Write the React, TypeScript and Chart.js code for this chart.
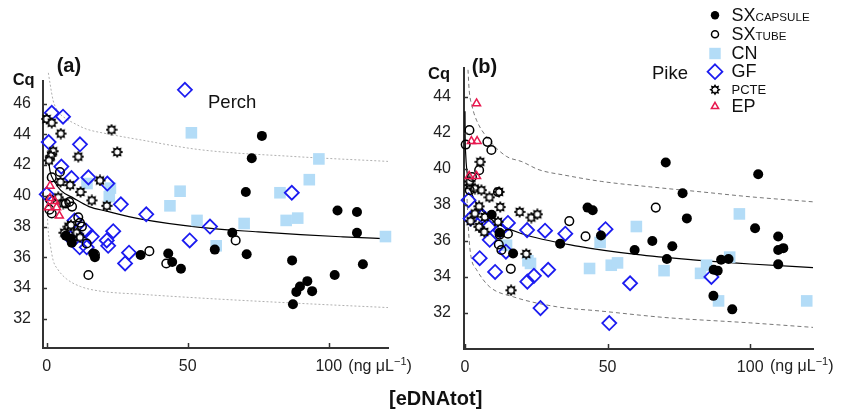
import React, { useEffect, useRef } from 'react';
import { Chart, registerables } from 'chart.js';

Chart.register(...registerables);

type P = [number, number];

// ---------- tick labels ----------
const X_TICKS = [0, 50, 100];
const Y_TICKS_PERCH = [32, 34, 36, 38, 40, 42, 44, 46];
const Y_TICKS_PIKE = [32, 34, 36, 38, 40, 42, 44];

// ---------- (a) Perch ----------
const perchCapsule: P[] = [
  [124, 38.1], [76.3, 43.9], [72.7, 42.45], [70.6, 40.25], [103.1, 39.05], [110.0, 38.95],
  [110.0, 37.6], [65.8, 37.6], [59.6, 36.5], [70.9, 36.2], [87.0, 35.8], [112.1, 35.55],
  [102.1, 34.85], [92.4, 34.45], [89.8, 34.1], [88.5, 33.75], [94.1, 33.8], [87.3, 32.95],
  [33.3, 36.15], [43.1, 36.25], [44.5, 35.7], [47.6, 35.25], [16.5, 36.25], [17.1, 36.0],
  [6.8, 37.4], [8.5, 37.2], [8.9, 36.95],
];
const perchTube: P[] = [
  [67.0, 37.1], [36.4, 36.4], [42.4, 35.6], [14.8, 34.85], [1.8, 41.2], [4.7, 41.55],
  [1.2, 39.75], [1.8, 38.85], [1.0, 39.1], [6.8, 39.5], [9.0, 39.3], [8.0, 39.6],
  [11.2, 38.6], [11.8, 38.25], [12.5, 38.0], [14.2, 36.9], [17.1, 36.2],
];
const perchCN: P[] = [
  [51.3, 44.1], [96.5, 42.4], [93.1, 41.05], [82.7, 40.2], [70.0, 38.2], [84.9, 38.4],
  [89.0, 38.55], [120.1, 37.35], [60.1, 36.75], [53.3, 38.4], [47.3, 40.3], [43.7, 39.35],
  [14.3, 40.8], [22.6, 40.5], [22.2, 39.95],
];
const perchGF: P[] = [
  [49.0, 46.9], [1.8, 45.4], [5.8, 45.15], [0.7, 43.5], [11.8, 43.35], [5.2, 41.9],
  [8.8, 41.15], [14.8, 41.2], [21.5, 40.8], [26.3, 39.45], [35.3, 38.8], [50.7, 37.1],
  [57.9, 38.0], [86.9, 40.2], [0.0, 40.1], [9.9, 38.4], [8.5, 37.25], [11.7, 36.65],
  [13.9, 37.75], [16.0, 37.35], [14.2, 36.65], [21.3, 37.1], [21.8, 36.75], [23.6, 37.7],
  [29.2, 36.3], [27.8, 35.6],
];
const perchPCTE: P[] = [
  [0.0, 45.0], [1.8, 44.75], [5.0, 44.05], [23.0, 44.3], [25.0, 42.85], [11.2, 42.55],
  [2.3, 42.9], [1.5, 42.6], [0.8, 42.3], [18.9, 41.0], [12.0, 40.25], [16.0, 39.7],
  [21.3, 39.35], [4.9, 40.9], [8.3, 40.7], [4.1, 39.9], [5.9, 39.5], [7.7, 38.0],
  [6.2, 37.6], [10.6, 37.6], [11.8, 37.3], [8.6, 38.1],
];
const perchEP: P[] = [
  [1.2, 40.65], [1.2, 39.85], [2.9, 39.65], [3.5, 39.25], [0.6, 39.25], [4.5, 38.7],
];
const perchFit: P[] = [
  [0.5, 42.6], [1.2, 41.6], [2.9, 40.9], [5, 40.35], [9.5, 39.85], [15, 39.3], [21.3, 39.0],
  [33, 38.5], [54.4, 37.95], [75, 37.65], [90, 37.47], [105, 37.33], [121, 37.2],
];
const perchUpper: P[] = [
  [0.6, 48.0], [1.2, 47.3], [2.3, 46.2], [4, 45.5], [7, 45.0], [9.4, 44.75], [14, 44.35],
  [21.3, 44.04], [33, 43.65], [54.4, 43.0], [87.4, 42.56], [121, 42.24],
];
const perchLower: P[] = [
  [0.3, 38.5], [0.6, 37.6], [1.2, 36.9], [2.3, 35.8], [4, 35.2], [7, 34.6], [12, 34.1],
  [19, 33.8], [33, 33.6], [54.4, 33.35], [90, 33.0], [121, 32.73],
];

// ---------- (b) Pike ----------
const pikeCapsule: P[] = [
  [70.4, 40.35], [102.8, 39.7], [76.3, 38.65], [77.8, 37.25], [101.7, 36.7], [109.8, 36.25],
  [109.8, 35.5], [111.6, 35.6], [109.8, 34.7], [65.7, 36.0], [59.5, 35.5], [72.7, 35.7],
  [70.8, 35.0], [89.8, 34.95], [92.4, 35.0], [87.2, 34.4], [88.6, 34.35], [87.1, 32.95],
  [93.7, 32.2], [43.0, 37.85], [44.8, 37.7], [33.4, 35.85], [47.7, 36.3], [9.4, 37.45],
  [12.2, 36.45], [16.9, 35.3],
];
const pikeTube: P[] = [
  [0.3, 41.35], [1.6, 42.15], [7.9, 41.5], [9.3, 41.05], [5.0, 39.93], [2.5, 39.55],
  [1.7, 38.82], [11.6, 38.72], [12.2, 36.35], [15.1, 36.4], [11.9, 35.8], [12.8, 35.5],
  [16.1, 34.45], [36.6, 37.1], [42.3, 36.25], [66.9, 37.85],
];
const pikeCN: P[] = [
  [96.2, 37.5], [60.1, 36.8], [51.3, 34.65], [53.5, 34.78], [69.8, 34.35], [82.6, 34.2],
  [84.7, 34.65], [92.8, 35.1], [88.9, 32.67], [119.8, 32.67], [43.7, 34.47], [47.4, 35.92],
  [14.6, 35.76], [22.1, 34.9], [23.0, 34.75],
];
const pikeGF: P[] = [
  [1.3, 38.26], [2.0, 37.24], [6.1, 37.38], [8.4, 36.78], [8.7, 36.06], [5.2, 35.04],
  [10.6, 34.28], [15.1, 37.0], [12.4, 36.59], [14.4, 35.4], [21.8, 36.6], [28.1, 36.57],
  [35.2, 36.4], [49.3, 36.65], [29.2, 34.4], [24.2, 34.06], [21.9, 33.74], [26.5, 32.27],
  [50.6, 31.44], [57.9, 33.65], [86.4, 34.0],
];
const pikePCTE: P[] = [
  [5.4, 40.39], [1.7, 39.1], [3.5, 38.91], [5.8, 38.82], [8.6, 38.42], [12.4, 37.88],
  [5.0, 37.92], [3.5, 37.52], [7.0, 37.33], [2.0, 37.1], [19.2, 37.61], [23.3, 37.3],
  [25.4, 37.48], [5.0, 36.78], [11.6, 37.06], [12.0, 38.72], [6.8, 36.5], [21.5, 35.28],
  [16.2, 33.26], [1.7, 39.3],
];
const pikeEP: P[] = [
  [4.1, 43.63], [2.3, 41.54], [4.3, 41.54], [1.5, 39.6], [4.1, 39.6],
];
const pikeFit: P[] = [
  [0.05, 43.2], [0.1, 41.9], [0.3, 40.8], [0.7, 39.9], [1.5, 39.1], [3, 38.4], [6, 37.7],
  [10, 37.1], [20, 36.4], [40, 35.7], [60, 35.25], [80, 34.95], [100, 34.72], [122, 34.52],
];
const pikeUpper: P[] = [
  [1.1, 45.5], [1.5, 44.4], [2.5, 43.5], [4.1, 42.7], [8, 41.7], [14.5, 40.7], [20, 40.4],
  [26, 39.95], [35, 39.65], [48, 39.3], [65, 39.0], [83, 38.72], [100, 38.45], [122, 38.17],
];
const pikeLower: P[] = [
  [0.5, 39.5], [0.8, 38.2], [1.2, 36.8], [1.7, 35.7], [2.3, 35.0], [4.1, 34.4], [8.7, 33.45],
  [16.9, 32.9], [32, 32.35], [48, 32.1], [70, 31.75], [100, 31.45], [122, 31.2],
];

// ---------- styles ----------
const FONT = '"Liberation Sans", Arial, Helvetica, sans-serif';
const BLUE = '#1c1cf0';
const LIGHT = '#b3dcf7';
const RED = '#e8194f';
const AXIS = '#333';

function makeStar(): HTMLCanvasElement {
  const s = 12;
  const c = document.createElement('canvas');
  c.width = s;
  c.height = s;
  const g = c.getContext('2d');
  if (!g) return c;
  const cx = s / 2, cy = s / 2, ro = 4.8, ri = 3.0;
  g.beginPath();
  for (let i = 0; i < 16; i++) {
    const r = i % 2 === 0 ? ro : ri;
    const a = (i * Math.PI) / 8 - Math.PI / 2;
    const x = cx + r * Math.cos(a), y = cy + r * Math.sin(a);
    if (i === 0) g.moveTo(x, y); else g.lineTo(x, y);
  }
  g.closePath();
  g.fillStyle = '#fff';
  g.fill();
  g.lineWidth = 1.4;
  g.strokeStyle = '#000';
  g.stroke();
  return c;
}

const innerTicks = {
  id: 'innerTicks',
  afterDraw(chart: any) {
    const { ctx, chartArea: a, scales } = chart;
    ctx.save();
    ctx.strokeStyle = AXIS;
    ctx.lineWidth = 1.5;
    for (const t of scales.x.ticks) {
      const px = Math.round(scales.x.getPixelForValue(t.value)) + 0.5;
      ctx.beginPath();
      ctx.moveTo(px, a.bottom);
      ctx.lineTo(px, a.bottom - 5);
      ctx.stroke();
    }
    for (const t of scales.y.ticks) {
      const py = Math.round(scales.y.getPixelForValue(t.value)) + 0.5;
      ctx.beginPath();
      ctx.moveTo(a.left, py);
      ctx.lineTo(a.left + 4, py);
      ctx.stroke();
    }
    ctx.restore();
  },
};

interface Panel {
  capsule: P[]; tube: P[]; cn: P[]; gf: P[]; pcte: P[]; ep: P[];
  fit: P[]; upper: P[]; lower: P[];
  yTicks: number[];
  xmin: number; xmax: number; ymin: number; ymax: number;
  pad: { left: number; top: number; right: number; bottom: number };
  yWidth: number; xHeight: number; yPad: number; xPad: number;
  dashColor: string; dash: number[];
}

const pts = (a: P[]) => a.map(([x, y]) => ({ x, y }));

function buildConfig(p: Panel, star: HTMLCanvasElement): any {
  const scatter = (data: P[], extra: any, order: number) => ({
    data: pts(data), showLine: false, clip: false, order, ...extra,
  });
  const line = (data: P[], color: string, dash: number[], width: number, order: number) => ({
    data: pts(data), showLine: true, pointRadius: 0, borderColor: color, borderWidth: width,
    borderDash: dash, cubicInterpolationMode: 'monotone', fill: false, clip: false, order,
  });
  return {
    type: 'scatter',
    data: {
      datasets: [
        scatter(p.ep, { pointStyle: 'triangle', pointRadius: 4.6, borderColor: RED, borderWidth: 1.5, backgroundColor: 'rgba(0,0,0,0)' }, 0),
        scatter(p.capsule, { pointStyle: 'circle', pointRadius: 5, borderWidth: 0, backgroundColor: '#000', borderColor: '#000' }, 1),
        scatter(p.tube, { pointStyle: 'circle', pointRadius: 4.3, borderWidth: 1.5, backgroundColor: 'rgba(0,0,0,0)', borderColor: '#000' }, 2),
        scatter(p.pcte, { pointStyle: star, pointRadius: 6 }, 3),
        scatter(p.gf, { pointStyle: 'rectRot', pointRadius: 7, borderWidth: 1.8, borderColor: BLUE, backgroundColor: 'rgba(0,0,0,0)' }, 4),
        scatter(p.cn, { pointStyle: 'rect', pointRadius: 8.2, borderWidth: 0, backgroundColor: LIGHT, borderColor: LIGHT }, 5),
        line(p.fit, '#000', [], 1.2, 6),
        line(p.upper, p.dashColor, p.dash, 1, 7),
        line(p.lower, p.dashColor, p.dash, 1, 8),
      ],
    },
    options: {
      animation: false,
      responsive: false,
      maintainAspectRatio: false,
      devicePixelRatio: 1,
      events: [],
      layout: { padding: p.pad },
      plugins: { legend: { display: false }, tooltip: { enabled: false } },
      scales: {
        x: {
          type: 'linear', min: p.xmin, max: p.xmax,
          afterBuildTicks: (s: any) => { s.ticks = X_TICKS.map((v) => ({ value: v })); },
          afterFit: (s: any) => { s.height = p.xHeight; },
          grid: { display: false, drawTicks: false, tickLength: 0 },
          border: { display: true, color: AXIS, width: 2 },
          ticks: {
            padding: p.xPad, color: '#222', autoSkip: false, maxRotation: 0,
            font: { family: FONT, size: 16 }, callback: (v: any) => String(v),
          },
        },
        y: {
          type: 'linear', min: p.ymin, max: p.ymax,
          afterBuildTicks: (s: any) => { s.ticks = p.yTicks.map((v) => ({ value: v })); },
          afterFit: (s: any) => { s.width = p.yWidth; },
          grid: { display: false, drawTicks: false, tickLength: 0 },
          border: { display: true, color: AXIS, width: 2 },
          ticks: {
            padding: p.yPad, color: '#222', autoSkip: false,
            font: { family: FONT, size: 16 }, callback: (v: any) => String(v),
          },
        },
      },
    },
    plugins: [innerTicks],
  };
}

const perchPanel: Panel = {
  capsule: perchCapsule, tube: perchTube, cn: perchCN, gf: perchGF, pcte: perchPCTE, ep: perchEP,
  fit: perchFit, upper: perchUpper, lower: perchLower, yTicks: Y_TICKS_PERCH,
  xmin: -1.3, xmax: 121, ymin: 30.1, ymax: 47.47,
  pad: { left: 0, top: 81, right: 32, bottom: 33 },
  yWidth: 43, xHeight: 30, yPad: 12, xPad: 9,
  dashColor: '#b0b0b0', dash: [2, 2],
};
const pikePanel: Panel = {
  capsule: pikeCapsule, tube: pikeTube, cn: pikeCN, gf: pikeGF, pcte: pikePCTE, ep: pikeEP,
  fit: pikeFit, upper: pikeUpper, lower: pikeLower, yTicks: Y_TICKS_PIKE,
  xmin: -0.3, xmax: 122, ymin: 30.0, ymax: 45.6,
  pad: { left: 0, top: 68, right: 30, bottom: 32 },
  yWidth: 44, xHeight: 30, yPad: 13, xPad: 9,
  dashColor: '#777', dash: [4, 3],
};

const starPoints = (cx: number, cy: number, ro: number, ri: number) => {
  const out: string[] = [];
  for (let i = 0; i < 16; i++) {
    const r = i % 2 === 0 ? ro : ri;
    const a = (i * Math.PI) / 8 - Math.PI / 2;
    out.push(`${(cx + r * Math.cos(a)).toFixed(2)},${(cy + r * Math.sin(a)).toFixed(2)}`);
  }
  return out.join(' ');
};

const txt = (left: number, top: number, size: number, bold: boolean, content: React.ReactNode, extra: any = {}) => (
  <div style={{ position: 'absolute', left, top, fontSize: size, fontWeight: bold ? 700 : 400, lineHeight: `${size}px`, whiteSpace: 'nowrap', color: '#111', ...extra }}>
    {content}
  </div>
);

const unit = (
  <span>(ng μL<span style={{ fontSize: 11, position: 'relative', top: -6 }}>−1</span>)</span>
);

export default function App() {
  const refA = useRef<HTMLCanvasElement>(null);
  const refB = useRef<HTMLCanvasElement>(null);

  useEffect(() => {
    const star = makeStar();
    const a = new Chart(refA.current as HTMLCanvasElement, buildConfig(perchPanel, star));
    const b = new Chart(refB.current as HTMLCanvasElement, buildConfig(pikePanel, star));
    return () => { a.destroy(); b.destroy(); };
  }, []);

  const L = 18; // legend font size
  const legendRow = (baseline: number, content: React.ReactNode) =>
    txt(731.5, baseline - 0.8465 * L, L, false, content);
  const small = (s: string, size = 11.6) => <span style={{ fontSize: size }}>{s}</span>;

  return (
    <div style={{ position: 'absolute', left: 0, top: 0, width: 843, height: 411, background: '#fff', overflow: 'hidden', fontFamily: FONT }}>
      <canvas ref={refA} width={420} height={411} style={{ position: 'absolute', left: 0, top: 0, width: 420, height: 411 }} />
      <canvas ref={refB} width={423} height={411} style={{ position: 'absolute', left: 420, top: 0, width: 423, height: 411 }} />

      {txt(56.7, 54.6, 20, true, '(a)')}
      {txt(471.7, 55.6, 20, true, '(b)')}
      {txt(12.7, 70.6, 16.5, true, 'Cq')}
      {txt(428, 64.6, 16.5, true, 'Cq')}
      {txt(208, 92.6, 18.5, false, 'Perch')}
      {txt(652, 63.6, 18.5, false, 'Pike')}
      {txt(348.3, 358, 16, false, unit, { color: '#222' })}
      {txt(770, 358, 16, false, unit, { color: '#222' })}
      {txt(389, 387.6, 20, true, '[eDNAtot]')}

      {legendRow(21.7, <>SX{small('CAPSULE')}</>)}
      {legendRow(40.7, <>SX{small('TUBE')}</>)}
      {legendRow(59, 'CN')}
      {legendRow(77.3, 'GF')}
      {legendRow(94.3, small('PCTE', 13))}
      {legendRow(112, 'EP')}

      <svg width={843} height={411} style={{ position: 'absolute', left: 0, top: 0, pointerEvents: 'none' }}>
        <circle cx={715} cy={15.2} r={4.2} fill="#000" />
        <circle cx={715} cy={34.2} r={3.5} fill="none" stroke="#000" strokeWidth={1.5} />
        <rect x={709.3} y={47.8} width={11.4} height={11.4} fill={LIGHT} />
        <polygon points="715,64.3 722.4,71.7 715,79.1 707.6,71.7" fill="none" stroke={BLUE} strokeWidth={1.8} />
        <polygon points={starPoints(715, 89.7, 4.4, 2.8)} fill="#fff" stroke="#000" strokeWidth={1.4} />
        <polygon points="715,102.3 718.6,108.6 711.4,108.6" fill="none" stroke={RED} strokeWidth={1.5} />
      </svg>
    </div>
  );
}
